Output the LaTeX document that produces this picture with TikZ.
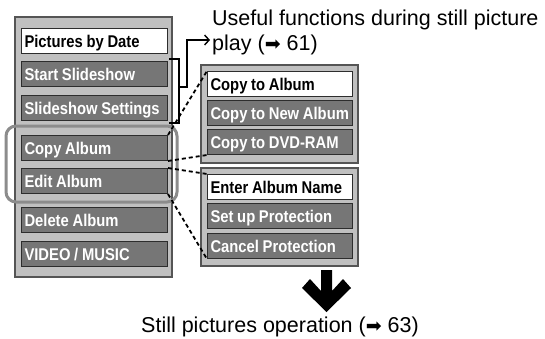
\documentclass[tikz,border=0pt]{standalone}
\usepackage{fontspec}
\setmainfont{Liberation Sans}
\newfontfamily\itemfont[FakeStretch=0.87,WordSpace=0.9]{Liberation Sans}
\newfontfamily\symfont{DejaVu Sans}
\usetikzlibrary{arrows.meta}
\definecolor{panelfill}{RGB}{192,192,192}
\definecolor{panelline}{RGB}{85,85,85}
\definecolor{itemfill}{RGB}{118,118,118}
\definecolor{itemline}{RGB}{45,45,45}
\definecolor{hilite}{RGB}{140,140,140}
\newcommand\itmtxt[2]{\makebox[#1][l]{#2}}
\tikzset{
  panel/.style={draw=panelline, line width=1.3pt, fill=panelfill},
  itembox/.style={draw=itemline, line width=1pt, fill=itemfill, text=white,
    minimum height=25pt, inner ysep=0pt, inner xsep=3pt, anchor=north west,
    text height=12.3pt, text depth=0pt,
    font=\itemfont\bfseries\fontsize{17}{17}\selectfont},
  whitebox/.style={itembox, fill=white, text=black},
  fanline/.style={line width=1.8pt, dash pattern=on 4pt off 3pt},
  bracketline/.style={line width=1.1pt},
  pointer/.style={line width=1.8pt, -{Straight Barb[length=4.5pt,width=10pt,line width=1.4pt]}},
  plaintext/.style={inner sep=0pt, font=\fontsize{21.5}{25}\selectfont}
}
\begin{document}
\begin{tikzpicture}[x=1pt,y=-1pt]
\useasboundingbox (0,0) rectangle (545,338);
% left panel
\draw[panel] (15,17) rectangle (172,277);
\node[whitebox] (pbd) at (21,28) {\itmtxt{140pt}{Pictures by Date}};
\node[itembox] (ss) at (21,61) {\itmtxt{140pt}{Start Slideshow}};
\node[itembox] (sss) at (21,95) {\itmtxt{140pt}{Slideshow Settings}};
\node[itembox] (ca) at (21,135) {\itmtxt{140pt}{Copy Album}};
\node[itembox] (ea) at (21,168) {\itmtxt{140pt}{Edit Album}};
\node[itembox] (da) at (21,207) {\itmtxt{140pt}{Delete Album}};
\node[itembox] (vm) at (21,241) {\itmtxt{140pt}{VIDEO / MUSIC}};
% highlight
\draw[hilite, line width=3pt, rounded corners=10pt] (6,126) rectangle (177,202);
% right panels
\draw[panel] (201,65) rectangle (358,163);
\node[whitebox] (cta) at (207,71) {\itmtxt{139pt}{Copy to Album}};
\node[itembox] (ctn) at (207,100) {\itmtxt{139pt}{Copy to New Album}};
\node[itembox] (ctd) at (207,129) {\itmtxt{139pt}{Copy to DVD-RAM}};
\draw[panel] (201,168) rectangle (358,266);
\node[whitebox] (ean) at (207,174) {\itmtxt{139pt}{Enter Album Name}};
\node[itembox] (sup) at (207,203) {\itmtxt{139pt}{Set up Protection}};
\node[itembox] (cp) at (207,233) {\itmtxt{139pt}{Cancel Protection}};
% fan lines
\draw[fanline] (ca.north east) -- (cta.north west);
\draw[fanline] (ca.south east) -- (ctd.south west);
\draw[fanline] (ea.north east) -- (ean.north west);
\draw[fanline] (ea.south east) -- (cp.south west);
% texts
\node[plaintext, anchor=base west] (u1) at (212,25) {Useful functions during still picture};
\node[plaintext, anchor=base west] (u2) at (212,50) {play ({\symfont\fontsize{19}{19}\selectfont ➡} 61)};
\node[plaintext, anchor=base] (still) at (280,332) {Still pictures operation ({\symfont\fontsize{19}{19}\selectfont ➡} 63)};
% bracket and pointer
\draw[bracketline] ([xshift=1pt,yshift=2pt]ss.north east) -- ++(10,0) |- ([xshift=1pt,yshift=-2pt]sss.south east);
\coordinate (bm) at ([xshift=11pt]sss.north east);
\coordinate (tip) at ([xshift=-2pt,yshift=10pt]u2.base west);
\draw[pointer] ([yshift=8pt]bm) -- ++(8,0) |- (tip);
% big arrow
\fill[black] (321,270) -- (332,270) -- (332,291) -- (343,279) -- (351,288) -- (326.5,312) -- (302,288) -- (310,279) -- (321,291) -- cycle;
\end{tikzpicture}
\end{document}
